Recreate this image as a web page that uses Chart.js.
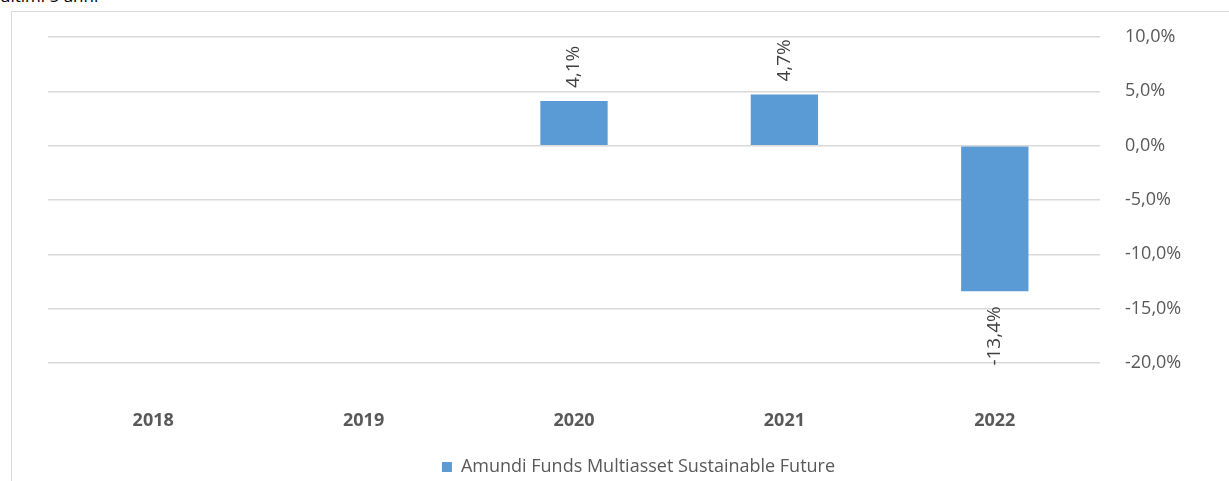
<!DOCTYPE html>
<html lang="it">
<head>
    <meta charset="UTF-8">
    <title>Rendimenti annui</title>
    <script src="https://cdn.jsdelivr.net/npm/chart.js"></script>
    <style>
        body {
            margin: 0;
            width: 1229px;
            height: 481px;
            overflow: hidden;
            background: #fff;
            position: relative;
            font-family: "Open Sans", sans-serif;
        }

        .titolo {
            position: absolute;
            left: 0;
            top: -16px;
            font-size: 17px;
            color: #000;
            white-space: nowrap;
        }

        .cornice {
            position: absolute;
            left: 11px;
            top: 11px;
            width: 1400px;
            height: 600px;
            border: 1px solid #d9d9d9;
        }

        canvas {
            position: absolute;
            left: 0;
            top: 0;
        }
    </style>
</head>
<body>
    <div class="titolo">ultimi 5 anni</div>
    <div class="cornice"></div>
    <canvas id="grafico" width="1229" height="481"></canvas>

    <script>
        const anni = ['2018', '2019', '2020', '2021', '2022'];
        const rendimenti = [null, null, 4.1, 4.7, -13.4];
        const nomeFondo = 'Amundi Funds Multiasset Sustainable Future';
        const asseMin = -20;
        const asseMax = 10;
        const asseStep = 5;

        const grigio = '#595959';
        const blu = '#5B9BD5';

        const formatta = v => v.toFixed(1).replace('.', ',') + '%';

        // etichette ruotate sopra/sotto le barre
        const etichette = {
            id: 'etichette',
            afterDatasetsDraw(chart) {
                const ctx = chart.ctx;
                const meta = chart.getDatasetMeta(0);
                ctx.save();
                ctx.font = '19px "Open Sans"';
                ctx.fillStyle = '#404040';
                ctx.textBaseline = 'middle';
                meta.data.forEach((bar, i) => {
                    const v = rendimenti[i];
                    if (v === null) return;
                    ctx.save();
                    if (v >= 0) {
                        ctx.translate(bar.x, bar.y - 13);
                        ctx.rotate(-Math.PI / 2);
                        ctx.textAlign = 'left';
                    } else {
                        ctx.translate(bar.x, bar.y + 15);
                        ctx.rotate(-Math.PI / 2);
                        ctx.textAlign = 'right';
                    }
                    ctx.fillText(formatta(v), 0, 0);
                    ctx.restore();
                });
                ctx.restore();
            }
        };

        const ctx = document.getElementById('grafico').getContext('2d');
        const chart = new Chart(ctx, {
            type: 'bar',
            data: {
                labels: anni,
                datasets: [{
                    label: nomeFondo,
                    data: rendimenti,
                    backgroundColor: blu,
                    borderWidth: 0,
                    categoryPercentage: 1,
                    barPercentage: 0.32
                }]
            },
            options: {
                responsive: false,
                animation: false,
                layout: {
                    padding: { left: 48, top: 37, right: 0, bottom: -5 }
                },
                plugins: {
                    tooltip: { enabled: false },
                    legend: {
                        position: 'bottom',
                        labels: {
                            color: grigio,
                            boxWidth: 10,
                            boxHeight: 10,
                            padding: 10,
                            font: { family: 'Open Sans', size: 18 }
                        }
                    }
                },
                scales: {
                    x: {
                        grid: { display: false, drawTicks: false },
                        border: { display: false },
                        ticks: {
                            color: grigio,
                            padding: 47,
                            font: { family: 'Open Sans', size: 18, weight: 'bold' }
                        },
                        afterFit(scale) { scale.height = 85; }
                    },
                    y: {
                        position: 'right',
                        min: asseMin,
                        max: asseMax,
                        grid: { color: '#d9d9d9', lineWidth: 1.5, drawTicks: false },
                        border: { display: false },
                        ticks: {
                            stepSize: asseStep,
                            color: grigio,
                            padding: 25,
                            font: { family: 'Open Sans', size: 18 },
                            callback: v => formatta(v)
                        },
                        afterFit(scale) { scale.width = 129; }
                    }
                }
            },
            plugins: [etichette]
        });
    </script>
</body>
</html>
